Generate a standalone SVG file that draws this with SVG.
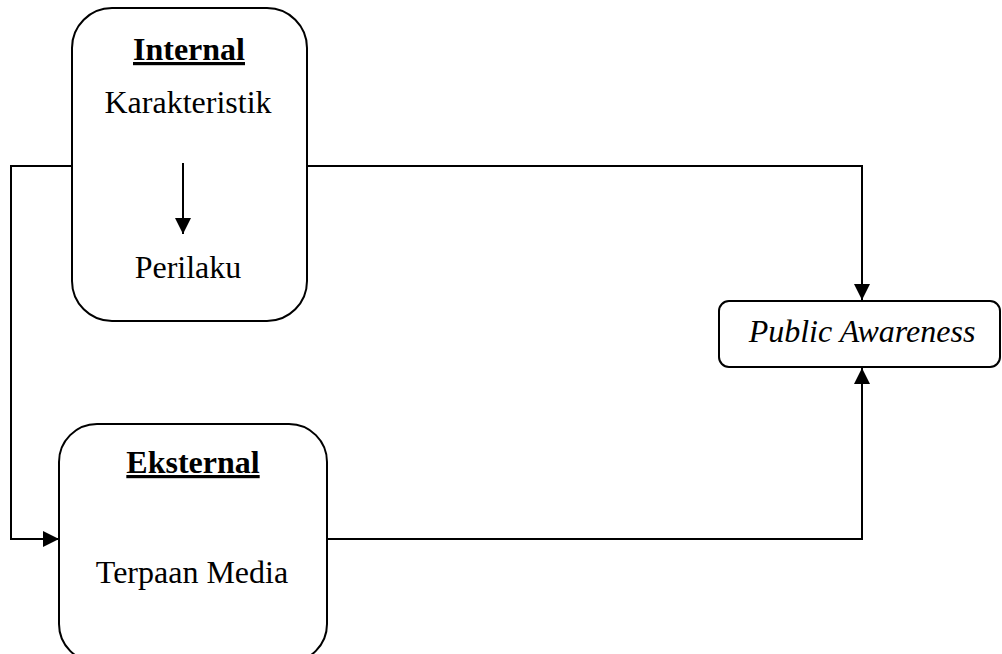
<svg xmlns="http://www.w3.org/2000/svg" width="1002" height="654" viewBox="0 0 1002 654">
<style>
.box{fill:#fff;stroke:#000;stroke-width:2}
.t{font-family:"Liberation Serif","Times New Roman",serif;font-size:32px;fill:#000;text-anchor:middle}
.b{font-weight:bold;text-decoration:underline}
.i{font-style:italic}
.c{fill:none;stroke:#000;stroke-width:2}
</style>
<defs>
<marker id="ah" viewBox="0 0 16 16" refX="16" refY="8" markerWidth="16" markerHeight="16" markerUnits="userSpaceOnUse" orient="auto">
<path d="M0,0 L16,8 L0,16 Z" fill="#000"/>
</marker>
</defs>
<g id="connectors">
<path class="c" d="M72,166 H11 V539 H59" marker-end="url(#ah)"/>
<path class="c" d="M307,166 H862 V300" marker-end="url(#ah)"/>
<path class="c" d="M327,539 H862 V368" marker-end="url(#ah)"/>
</g>
<g id="internal">
<rect class="box" x="72" y="8" width="235" height="313" rx="40" ry="40"/>
<text class="t b" x="189" y="60">Internal</text>
<text class="t" x="188" y="113">Karakteristik</text>
<text class="t" x="188" y="278">Perilaku</text>
</g>
<g id="inner-connector">
<path class="c" d="M183,163 V234" marker-end="url(#ah)"/>
</g>
<g id="eksternal">
<rect class="box" x="59" y="424" width="268" height="238" rx="38" ry="38"/>
<text class="t b" x="193" y="473">Eksternal</text>
<text class="t" x="192" y="583">Terpaan Media</text>
</g>
<g id="public-awareness">
<rect class="box" x="719" y="301" width="281" height="66" rx="10" ry="10"/>
<text class="t i" x="862" y="342">Public Awareness</text>
</g>
</svg>
